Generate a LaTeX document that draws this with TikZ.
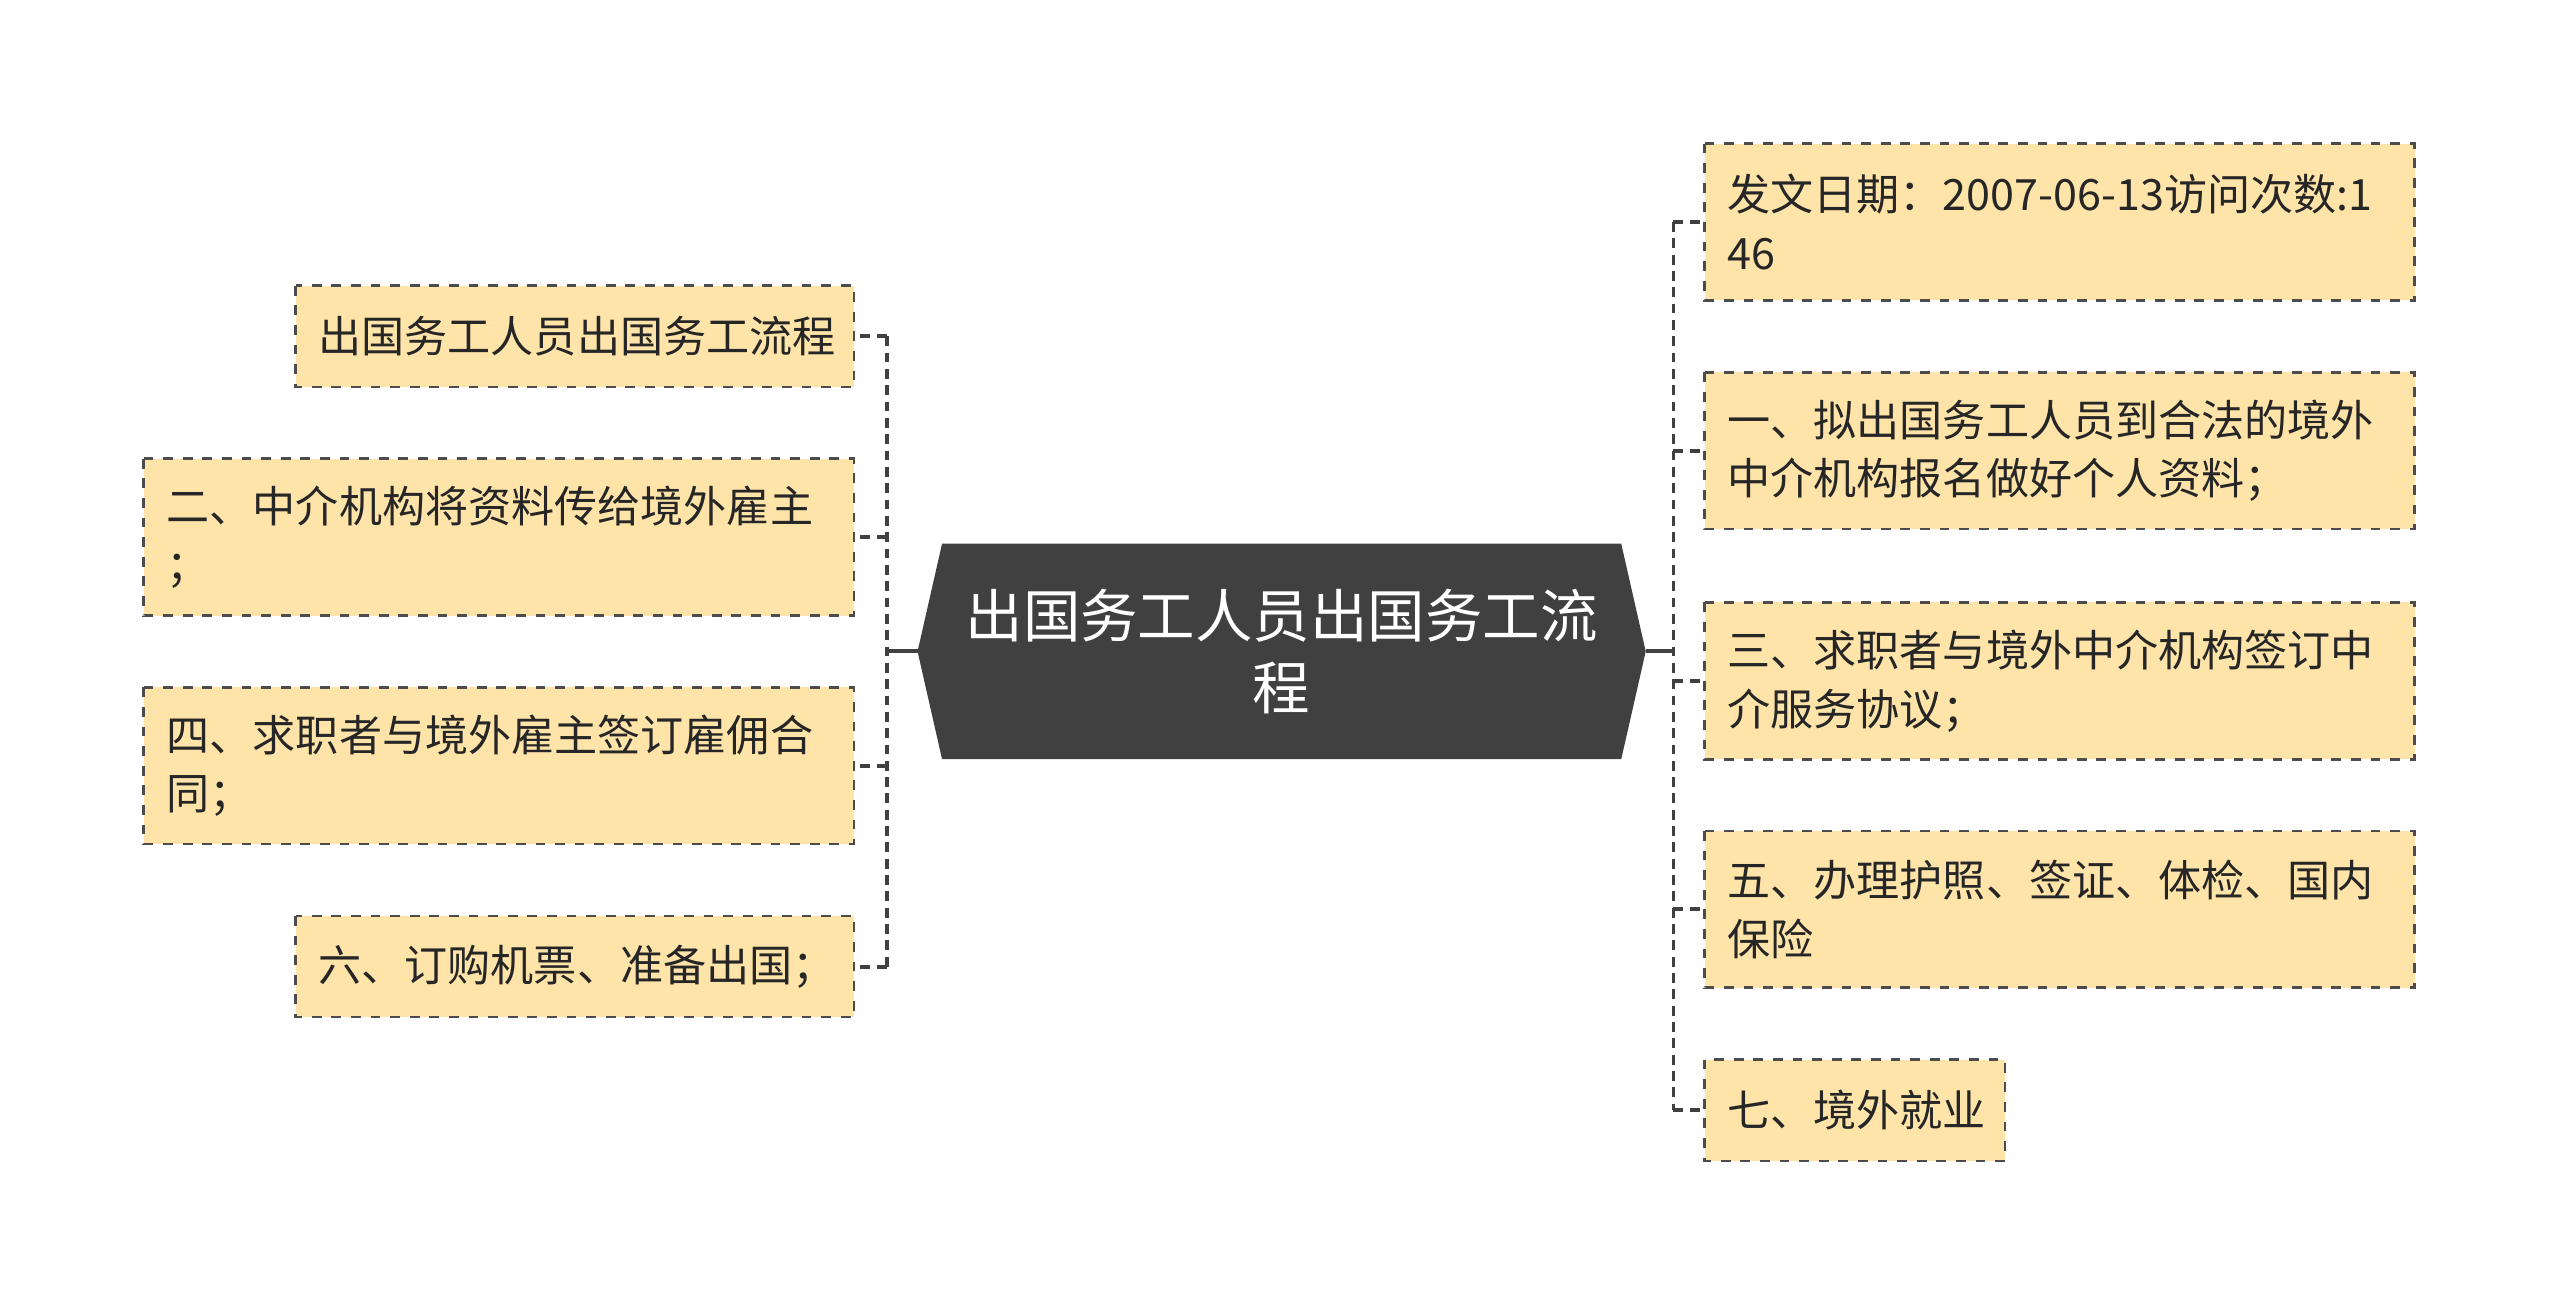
\documentclass[tikz,border=0pt]{standalone}
\usepackage{fontspec}
\setmainfont{Noto Sans CJK SC}
\begin{document}
\begin{tikzpicture}[x=0.5pt,y=-0.5pt,
  leaf/.style={draw=black!70,dashed,line width=0.8pt,fill={rgb,255:red,255;green,228;blue,170},anchor=north west,inner sep=0pt,text=black!85},
  conn/.style={draw=black!75,line width=1.2pt,dash pattern=on 3pt off 2pt},
  trunk/.style={draw=black!75,line width=1.2pt}]
\useasboundingbox (0,0) rectangle (1568,799);
\fill[black!75] (562,399) -- (577,333) -- (993,333) -- (1008,399) -- (993,465) -- (577,465) -- cycle;
\node[text=white,font=\fontsize{17.6}{22}\selectfont,align=center] (c) at (785,399) {出国务工人员出国务工流\\程};
\coordinate (cl) at (562,399); \coordinate (cr) at (1008,399);
\newcommand{\leafbox}[6]{%
  \path[leaf] (#1,#2) rectangle (#3,#4);
  \node[anchor=west,align=left,font=\fontsize{13.2}{18}\selectfont,text=black!85] (#5) at (#1+7,{(#2+#4)/2}) {#6};}
\leafbox{181}{175}{523}{237}{l1}{出国务工人员出国务工流程}
\leafbox{88}{281}{523}{377}{l2}{二、中介机构将资料传给境外雇主\\；}
\leafbox{88}{421}{523}{517}{l3}{四、求职者与境外雇主签订雇佣合\\同；}
\leafbox{181}{561}{523}{623}{l4}{六、订购机票、准备出国；}
\leafbox{1044}{88}{1479}{184}{r1}{发文日期：2007-06-13访问次数:1\\46}
\leafbox{1044}{228}{1479}{324}{r2}{一、拟出国务工人员到合法的境外\\中介机构报名做好个人资料；}
\leafbox{1044}{369}{1479}{465}{r3}{三、求职者与境外中介机构签订中\\介服务协议；}
\leafbox{1044}{509}{1479}{605}{r4}{五、办理护照、签证、体检、国内\\保险}
\leafbox{1044}{649}{1228}{711}{r5}{七、境外就业}
\draw[trunk] (cl) -- (543,399);
\draw[conn] (543,206) -- (543,592);
\foreach \y in {206,329,469,592} \draw[conn] (543,\y) -- (523,\y);
\draw[trunk] (cr) -- (1025,399);
\draw[conn] (1025,136) -- (1025,680);
\foreach \y in {136,276,417,557,680} \draw[conn] (1025,\y) -- (1044,\y);
\end{tikzpicture}
\end{document}
